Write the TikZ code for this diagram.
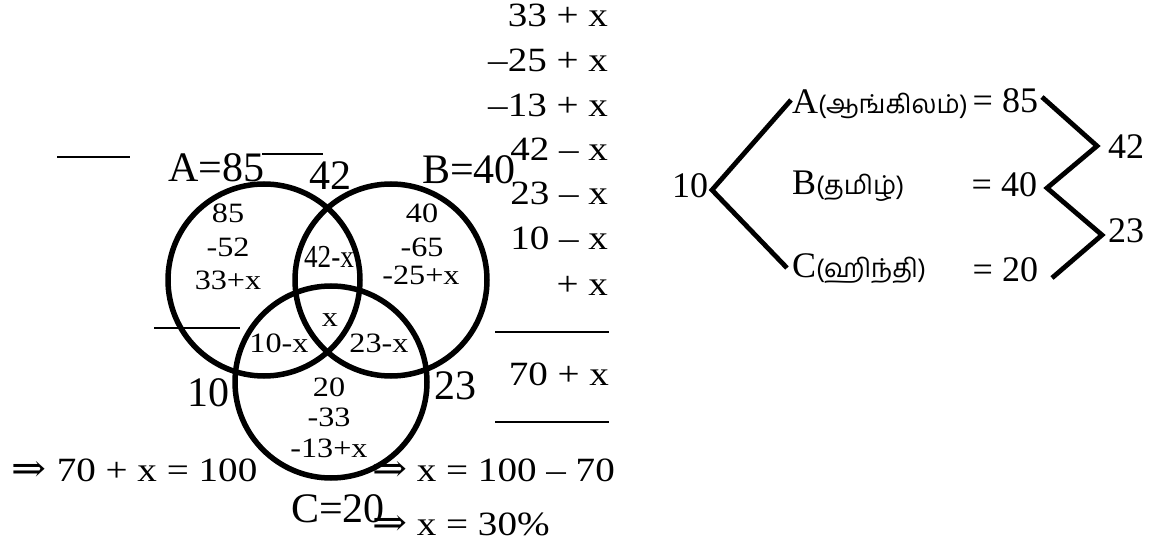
\documentclass[tikz,border=0pt]{standalone}
\usepackage{fontspec}
\setmainfont{Liberation Serif}
\newfontfamily\wide[FakeStretch=1.15]{Liberation Serif}
\newfontfamily\narrow[FakeStretch=0.85]{Liberation Serif}
\newfontfamily\arrowf[FakeStretch=1.1]{DejaVu Serif}
\newfontfamily\tamil[Script=Tamil]{Hind Madurai}
\newcommand{\impl}{{\arrowf\fontsize{38}{40}\selectfont ⇒}}
\tikzset{
  lbl/.style={font=\fontsize{42}{50}\selectfont, anchor=base west},
  colitem/.style={font=\wide\fontsize{34}{40}\selectfont, anchor=base east},
  inlbl/.style={font=\wide\fontsize{28}{34}\selectfont, anchor=base},
  eqn/.style={font=\wide\fontsize{34}{40}\selectfont, anchor=base west},
  treelbl/.style={font=\fontsize{36}{42}\selectfont, anchor=base west},
  treeval/.style={font=\fontsize{36}{42}\selectfont, anchor=base east},
  venn/.style={line width=5.5pt},
  branch/.style={line width=4.8pt},
  rulebar/.style={line width=2pt}
}
\begin{document}
\begin{tikzpicture}[x=1pt,y=-1pt, every node/.style={inner sep=0pt,outer sep=0pt}]
\useasboundingbox (0,0) rectangle (1163,545);

% Venn circles
\draw[venn] (264,280) circle[radius=96];
\draw[venn] (391,280) circle[radius=96];
\draw[venn] (331,382) circle[radius=96];

% stray rules
\draw[rulebar] (57,157) -- (130,157);
\draw[rulebar] (262,154) -- (323,154);
\draw[rulebar] (154,328) -- (240,328);

% big labels
\node[lbl] (labA) at (168,182) {A=85};
\node[lbl] (labAB) at (309,190) {42};
\node[lbl] (labB) at (422,184) {B=40};
\node[lbl] (labAC) at (187,407) {10};
\node[lbl] (labBC) at (434,400) {23};
\node[lbl] (labC) at (291,522) {C=20};

% inner texts
\node[inlbl] (a1) at (228,223) {85};
\node[inlbl] (a2) at (228,257) {-52};
\node[inlbl] (a3) at (228,290) {33+x};
\node[inlbl, font=\narrow\fontsize{32}{36}\selectfont] (ab) at (329,268) {42-x};
\node[inlbl] (b1) at (422,223) {40};
\node[inlbl] (b2) at (422,257) {-65};
\node[inlbl] (b3) at (421,285) {-25+x};
\node[inlbl] (abc) at (330,327) {x};
\node[inlbl] (ac) at (279,353) {10-x};
\node[inlbl] (bc) at (379,353) {23-x};
\node[inlbl] (c1) at (329,397) {20};
\node[inlbl] (c2) at (329,427) {-33};
\node[inlbl] (c3) at (329,457) {-13+x};

% column sum
\node[colitem] (s1) at (608,27) {33 + x};
\node[colitem] (s2) at (608,72) {–25 + x};
\node[colitem] (s3) at (608,117) {–13 + x};
\node[colitem] (s4) at (608,161) {42 – x};
\node[colitem] (s5) at (608,205) {23 – x};
\node[colitem] (s6) at (608,250) {10 – x};
\node[colitem] (s7) at (608,296) {+ x};
\draw[rulebar] (495,332) -- (609,332);
\node[colitem] (tot) at (609,386) {70 + x};
\draw[rulebar] (495,422) -- (609,422);

% equations
\node[eqn] (e1) at (12,482) {\impl{} 70 + x = 100};
\node[eqn] (e2) at (372,482) {\impl{} x = 100 – 70};
\node[eqn] (e3) at (372,535) {\impl{} x = 30\%};

% tree
\node[treelbl] (t10) at (672,198) {10};
\coordinate (t0) at (712,190);
\coordinate (tA) at (791,100);
\coordinate (tC) at (787,268);
\node[treelbl] (tnA) at (792,114) {A{\tamil\fontsize{26}{30}\selectfont(ஆங்கிலம்)}};
\node[treelbl] (tnB) at (792,195) {B{\tamil\fontsize{26}{30}\selectfont(தமிழ்)}};
\node[treelbl] (tnC) at (792,278) {C{\tamil\fontsize{26}{30}\selectfont(ஹிந்தி)}};
\node[treeval] (vA) at (1038,113) {= 85};
\node[treeval] (vB) at (1037,197) {= 40};
\node[treeval] (vC) at (1038,282) {= 20};
\draw[branch] (tA) -- (t0) -- (tC);

\coordinate (r1) at (1042,97);
\coordinate (r2) at (1097,146);
\coordinate (r3) at (1047,188);
\coordinate (r5) at (1102,235);
\coordinate (r6) at (1052,278);
\draw[branch] (r1) -- (r2) -- (r3) -- (r5) -- (r6);
\node[treelbl] (n42) at (1108,159) {42};
\node[treelbl] (n23) at (1108,243) {23};
\end{tikzpicture}
\end{document}
